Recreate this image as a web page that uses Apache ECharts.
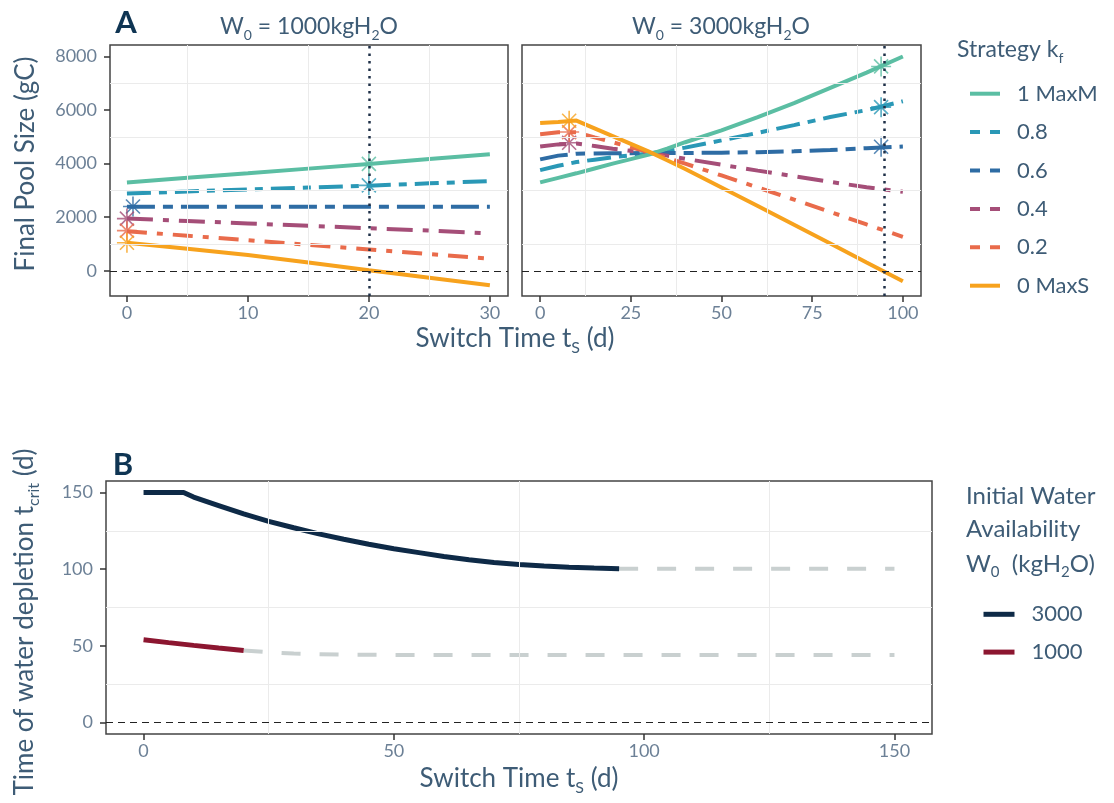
<!DOCTYPE html>
<html>
<head>
<meta charset="utf-8">
<title>Final pool size and water depletion</title>
<script src="https://cdn.jsdelivr.net/npm/echarts@6.0.0/dist/echarts.min.js"></script>
<style>
  html, body { margin: 0; padding: 0; background: #fff; }
  #chart { width: 1114px; height: 803px; }
</style>
</head>
<body>
<div id="chart"></div>
<script>
// ---- strategies (panel A) ----
const strategies = ['1 MaxM', '0.8', '0.6', '0.4', '0.2', '0 MaxS'];
const strategyColors = ['#5BBEA3', '#2A98B6', '#2E6CA4', '#A54E78', '#E96B4B', '#F7A21D'];
const strategyDash = ['solid', [24, 8, 8, 8], [28, 8, 10, 8], [26, 10, 6, 10], [20, 10, 6, 10], 'solid'];

// panel A, W0 = 1000 kgH2O
const tsA1 = [0, 5, 10, 15, 20, 25, 30];
const poolA1_kf1 = [3300, 3470, 3640, 3815, 3990, 4170, 4350];
const poolA1_kf08 = [2890, 2960, 3040, 3110, 3180, 3265, 3350];
const poolA1_kf06 = [2390, 2390, 2390, 2390, 2390, 2390, 2390];
const poolA1_kf04 = [1950, 1860, 1770, 1680, 1590, 1500, 1400];
const poolA1_kf02 = [1480, 1310, 1140, 970, 800, 630, 450];
const poolA1_kf0 = [1050, 820, 590, 310, 20, -260, -540];
const starA1_ts = [20, 20, 0.5, 0, 0, 0];
const starA1_pool = [3990, 3190, 2400, 1950, 1500, 1050];
const switchA1 = 20;

// panel A, W0 = 3000 kgH2O
const tsA2 = [0, 5, 10, 15, 20, 25, 30, 35, 40, 50, 60, 70, 80, 90, 100];
const poolA2_kf1 = [3300, 3470, 3640, 3820, 4000, 4170, 4340, 4560, 4800, 5240, 5740, 6260, 6830, 7400, 8000];
const poolA2_kf08 = [3760, 3920, 4060, 4150, 4240, 4310, 4380, 4480, 4600, 4870, 5150, 5440, 5740, 6000, 6330];
const poolA2_kf06 = [4160, 4300, 4370, 4380, 4390, 4390, 4400, 4400, 4400, 4410, 4430, 4460, 4510, 4580, 4640];
const poolA2_kf04 = [4640, 4720, 4750, 4660, 4560, 4480, 4410, 4300, 4180, 3960, 3740, 3530, 3320, 3120, 2950];
const poolA2_kf02 = [5100, 5170, 5170, 4980, 4800, 4610, 4430, 4210, 4000, 3560, 3110, 2660, 2200, 1730, 1270];
const poolA2_kf0 = [5520, 5560, 5610, 5320, 5030, 4740, 4450, 4130, 3800, 3110, 2420, 1720, 1020, 310, -390];
const starA2_ts = [94, 94, 94, 8, 8, 8];
const starA2_pool = [7630, 6110, 4630, 4780, 5180, 5600];
const switchA2 = 95;

// axis ticks / grid
const ticksPool = [0, 2000, 4000, 6000, 8000];
const gridPool = [1000, 3000, 5000, 7000];
const ticksA1 = [0, 10, 20, 30];
const gridA1 = [5, 15, 25];
const ticksA2 = [0, 25, 50, 75, 100];
const gridA2 = [12.5, 37.5, 62.5, 87.5];

// ---- panel B ----
const waterLevels = ['3000', '1000'];
const waterColors = ['#0E2A47', '#8C1630'];
const tsB3000 = [0, 8, 10, 15, 20, 25, 30, 35, 40, 45, 50, 55, 60, 65, 70, 75, 80, 85, 90, 95];
const tcrit3000 = [150, 150, 147, 141.5, 136, 131.2, 127, 123, 119.5, 116.3, 113.3, 110.8, 108.3, 106.2, 104.4, 103.1, 102.1, 101.3, 100.7, 100.3];
const tsB1000 = [0, 5, 10, 15, 20];
const tcrit1000 = [54, 52.1, 50.3, 48.6, 47];
const tsGrey3000 = [95, 150];
const tcritGrey3000 = [100.3, 100.3];
const tsGrey1000 = [20, 25, 30, 35, 40, 50, 150];
const tcritGrey1000 = [47, 45.8, 45, 44.6, 44.3, 44.1, 44];
const ticksB = [0, 50, 100, 150];
const gridB = [25, 75, 125];

const FONT = 'Lato, "Open Sans", sans-serif';
const TICK_COLOR = '#6C8096';
const TITLE_COLOR = '#3E5C76';

const chart = echarts.init(document.getElementById('chart'));

function pairs(xs, ys) { return xs.map((x, i) => [x, ys[i]]); }

function line(name, xs, ys, idx, color, dash, width) {
  return {
    type: 'line', name: name, xAxisIndex: idx, yAxisIndex: idx,
    data: pairs(xs, ys), symbol: 'none', silent: true, z: 3,
    lineStyle: { color: color, width: width || 4, type: dash, cap: 'butt' },
    itemStyle: { color: color }
  };
}

function guides(idx, xs, ys, style, z) {
  return {
    type: 'line', xAxisIndex: idx, yAxisIndex: idx, data: [], silent: true, z: z,
    markLine: {
      symbol: ['none', 'none'], silent: true, animation: false,
      label: { show: false }, lineStyle: style,
      data: xs.map(v => ({ xAxis: v })).concat(ys.map(v => ({ yAxis: v })))
    }
  };
}

function stars(idx, xs, ys) {
  return {
    type: 'scatter', xAxisIndex: idx, yAxisIndex: idx, silent: true, z: 4,
    symbol: 'path://M10,0L10,20M0,10L20,10M3,3L17,17M3,17L17,3',
    symbolSize: 20,
    data: xs.map((x, i) => ({
      value: [x, ys[i]],
      itemStyle: { color: strategyColors[i], borderColor: strategyColors[i], borderWidth: 1.6 }
    }))
  };
}

// order: dashed first, then solid lines on top
const poolsA1 = [poolA1_kf1, poolA1_kf08, poolA1_kf06, poolA1_kf04, poolA1_kf02, poolA1_kf0];
const poolsA2 = [poolA2_kf1, poolA2_kf08, poolA2_kf06, poolA2_kf04, poolA2_kf02, poolA2_kf0];
const drawOrder = [1, 2, 3, 4, 0, 5];

const series = [];
const gridStyle = { color: '#EBEBEB', width: 1, type: 'solid' };
series.push(guides(0, gridA1, gridPool, gridStyle, 1));
series.push(guides(1, gridA2, gridPool, gridStyle, 1));
series.push(guides(2, gridB, gridB, gridStyle, 1));
const zeroStyle = { color: '#222', width: 1, type: [7, 5] };
const dotStyle = { color: '#1F3048', width: 2.5, type: [2.5, 5] };
series.push(guides(0, [], [0], zeroStyle, 2));
series.push(guides(1, [], [0], zeroStyle, 2));
series.push(guides(2, [], [0], zeroStyle, 2));
series.push(guides(0, [switchA1], [], dotStyle, 2));
series.push(guides(1, [switchA2], [], dotStyle, 2));

drawOrder.forEach(k => {
  series.push(line(strategies[k], tsA1, poolsA1[k], 0, strategyColors[k], strategyDash[k]));
});
drawOrder.forEach(k => {
  series.push(line(strategies[k], tsA2, poolsA2[k], 1, strategyColors[k], strategyDash[k]));
});
series.push(stars(0, starA1_ts, starA1_pool));
series.push(stars(1, starA2_ts, starA2_pool));

series.push(line('grey3000', tsGrey3000, tcritGrey3000, 2, '#C9D0D0', [19, 19], 4));
series.push(line('grey1000', tsGrey1000, tcritGrey1000, 2, '#C9D0D0', [19, 19], 4));
series.push(line('3000', tsB3000, tcrit3000, 2, waterColors[0], 'solid', 5));
series.push(line('1000', tsB1000, tcrit1000, 2, waterColors[1], 'solid', 5));

function xAxis(idx, min, max, ticks) {
  return {
    type: 'value', gridIndex: idx, min: min, max: max,
    axisLine: { show: false, onZero: false },
    splitLine: { show: false },
    axisTick: { show: true, length: 6, lineStyle: { color: '#333', width: 1.5 }, customValues: ticks },
    axisLabel: { customValues: ticks, color: TICK_COLOR, fontSize: 18, fontFamily: FONT, margin: 8,
      formatter: v => String(v) }
  };
}
function yAxis(idx, min, max, ticks, labels) {
  return {
    type: 'value', gridIndex: idx, min: min, max: max,
    axisLine: { show: false, onZero: false },
    splitLine: { show: false },
    axisTick: { show: labels, length: 6, lineStyle: { color: '#333', width: 1.5 }, customValues: ticks },
    axisLabel: { show: labels, customValues: ticks, color: TICK_COLOR, fontSize: 18, fontFamily: FONT, margin: 13,
      formatter: v => String(v) }
  };
}

const gridBox = { show: true, borderColor: '#444', borderWidth: 1.5, backgroundColor: 'transparent' };

function rich(size, color) {
  return {
    a: { fontSize: size, fontFamily: FONT, color: color, verticalAlign: 'middle', lineHeight: size + 8 },
    s: { fontSize: Math.round(size * 0.62), fontFamily: FONT, color: color, verticalAlign: 'bottom', lineHeight: size + 8 }
  };
}
function text(x, y, str, size, color, opts) {
  return Object.assign({
    type: 'text', x: x, y: y, silent: true,
    style: Object.assign({
      text: str, rich: rich(size, color), align: 'center', verticalAlign: 'middle',
      fontSize: size, fontFamily: FONT, fill: color
    }, (opts && opts.style) || {})
  }, (opts && opts.el) || {});
}

const legendText = { color: TITLE_COLOR, fontSize: 22, lineHeight: 20, fontFamily: FONT, padding: [0, 0, 0, 12] };

const option = {
  animation: false,
  backgroundColor: '#fff',
  grid: [
    Object.assign({ left: 110, top: 45, width: 398, height: 251 }, gridBox),
    Object.assign({ left: 522, top: 45, width: 399, height: 251 }, gridBox),
    Object.assign({ left: 106, top: 481, width: 826, height: 253 }, gridBox)
  ],
  xAxis: [
    xAxis(0, -1.4, 31.5, ticksA1),
    xAxis(1, -5, 105, ticksA2),
    xAxis(2, -7.5, 157.5, ticksB)
  ],
  yAxis: [
    yAxis(0, -940, 8430, ticksPool, true),
    yAxis(1, -940, 8430, ticksPool, false),
    yAxis(2, -7.5, 157.5, ticksB, true)
  ],
  legend: [
    {
      orient: 'vertical', left: 963, top: 77.7, itemWidth: 30, itemHeight: 14, itemGap: 16.4,
      selectedMode: false, itemStyle: { opacity: 0 }, lineStyle: { width: 4 },
      textStyle: legendText,
      data: strategies.map((s, i) => (strategyDash[i] === 'solid'
        ? { name: s }
        : { name: s, lineStyle: { type: [10, 10], width: 4 } }))
    },
    {
      orient: 'vertical', left: 976, top: 598.3, itemWidth: 31, itemHeight: 14, itemGap: 15.8,
      selectedMode: false, itemStyle: { opacity: 0 }, lineStyle: { width: 5 },
      textStyle: legendText,
      data: waterLevels
    }
  ],
  graphic: [
    text(126, 23, 'A', 31, '#0F3553', { style: { fontWeight: 'bold', rich: null } }),
    text(309, 27, '{a|W}{s|0}{a| = 1000kgH}{s|2}{a|O}', 23, TITLE_COLOR),
    text(721, 27, '{a|W}{s|0}{a| = 3000kgH}{s|2}{a|O}', 23, TITLE_COLOR),
    text(515, 339, '{a|Switch Time t}{s|S}{a| (d)}', 26, TITLE_COLOR),
    text(26, 164, '{a|Final Pool Size (gC)}', 26, TITLE_COLOR, { el: { rotation: Math.PI / 2 } }),
    text(957, 50, '{a|Strategy k}{s|f}', 23, TITLE_COLOR, { style: { align: 'left' } }),
    text(123, 465, 'B', 31, '#0F3553', { style: { fontWeight: 'bold', rich: null } }),
    text(519, 779, '{a|Switch Time t}{s|S}{a| (d)}', 26, TITLE_COLOR),
    text(25, 622, '{a|Time of water depletion t}{s|crit}{a| (d)}', 26, TITLE_COLOR, { el: { rotation: Math.PI / 2 } }),
    text(966, 496, '{a|Initial Water}', 24, TITLE_COLOR, { style: { align: 'left' } }),
    text(966, 529, '{a|Availability}', 24, TITLE_COLOR, { style: { align: 'left' } }),
    text(966, 564, '{a|W}{s|0}{a|  (kgH}{s|2}{a|O)}', 24, TITLE_COLOR, { style: { align: 'left' } })
  ],
  series: series
};

chart.setOption(option);
</script>
</body>
</html>
